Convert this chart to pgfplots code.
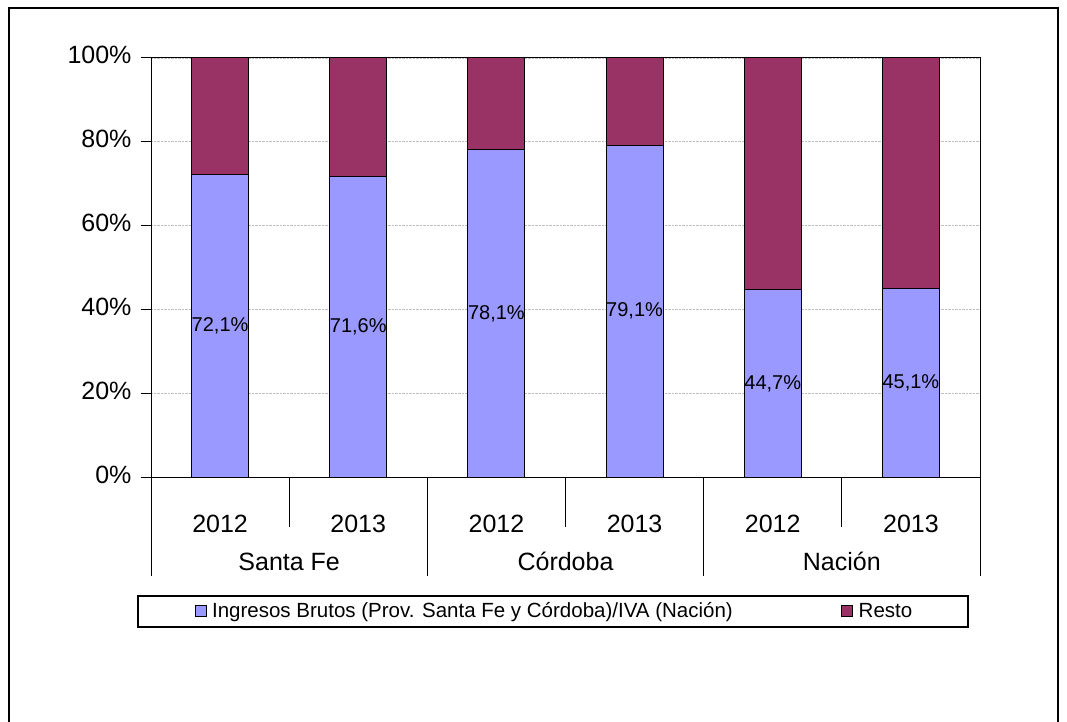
\documentclass[border=0pt]{standalone}
\usepackage{pgfplots}
\pgfplotsset{compat=1.18}
\usepackage{fontspec}
\setmainfont{Liberation Sans}
\definecolor{ib}{HTML}{9999FF}
\definecolor{resto}{HTML}{993366}
\begin{document}
\begin{tikzpicture}
\path[use as bounding box] (0pt,0pt) rectangle (1067pt,721pt);
\draw[line width=1.5pt] (9pt,-2pt) -- (9pt,713pt) -- (1058pt,713pt) -- (1058pt,-2pt);
\begin{axis}[
  at={(151pt,244pt)}, anchor=south west,
  width=829pt, height=419pt, scale only axis,
  ybar stacked, bar width=57pt,
  xmin=-0.5, xmax=5.5, ymin=0, ymax=100,
  clip=false,
  xtick={0,...,5},
  xticklabels={2012,2013,2012,2013,2012,2013},
  xtick style={draw=none},
  ytick={0,20,...,100},
  yticklabels={0\%,20\%,40\%,60\%,80\%,100\%},
  tick align=outside, major tick length=10pt,
  xtick pos=left, ytick pos=left,
  ytick style={black, line width=1pt},
  ymajorgrids, major grid style={gray!50, densely dotted, line width=0.8pt},
  axis line style={black, line width=1pt},
  ticklabel style={font=\fontsize{25}{30}\selectfont},
  xticklabel style={anchor=base, yshift=-45pt},
  yticklabel style={xshift=-6pt},
  typeset ticklabels with strut=false,
  legend columns=2,
  legend style={at={(axis description cs:0.0525,-0.3198)}, anchor=west,
    draw=none, fill=none, font=\fontsize{20.5}{24}\selectfont,
    inner sep=0pt, nodes={inner sep=2.5pt},
    /tikz/every even column/.append style={column sep=106pt}},
]
\addplot[fill=ib, draw=black, line width=1pt,
  legend image code/.code={\draw[fill=ib,draw=black,line width=0.8pt] (0pt,-5.5pt) rectangle (11pt,5.5pt); \path (14pt,0pt);},
  nodes near coords={\pgfmathprintnumber[use comma, fixed, fixed zerofill, precision=1, assume math mode=true]{\pgfplotspointmeta}\%},
  every node near coord/.append style={anchor=center, black, font=\fontsize{20}{24}\selectfont}
] coordinates {(0,72.1) (1,71.6) (2,78.1) (3,79.1) (4,44.7) (5,45.1)};
\addlegendentry{Ingresos Brutos (Prov. Santa Fe y Córdoba)/IVA (Nación)}
\addplot[fill=resto, draw=black, line width=1pt,
  legend image code/.code={\draw[fill=resto,draw=black,line width=0.8pt] (0pt,-5.5pt) rectangle (11pt,5.5pt); \path (14pt,0pt);}
] coordinates {(0,27.9) (1,28.4) (2,21.9) (3,20.9) (4,55.3) (5,54.9)};
\addlegendentry{Resto}
% category separators
\draw[black, line width=1pt] (axis cs:-0.5,0) -- ++(0pt,-99pt);
\draw[black, line width=1pt] (axis cs:1.5,0) -- ++(0pt,-99pt);
\draw[black, line width=1pt] (axis cs:3.5,0) -- ++(0pt,-99pt);
\draw[black, line width=1pt] (axis cs:5.5,0) -- ++(0pt,-99pt);
\draw[black, line width=1pt] (axis cs:0.5,0) -- ++(0pt,-50pt);
\draw[black, line width=1pt] (axis cs:2.5,0) -- ++(0pt,-50pt);
\draw[black, line width=1pt] (axis cs:4.5,0) -- ++(0pt,-50pt);
\node[anchor=base, yshift=-93pt, font=\fontsize{25}{30}\selectfont] at (axis cs:0.5,0) {Santa Fe};
\node[anchor=base, yshift=-93pt, font=\fontsize{25}{30}\selectfont] at (axis cs:2.5,0) {Córdoba};
\node[anchor=base, yshift=-93pt, font=\fontsize{25}{30}\selectfont] at (axis cs:4.5,0) {Nación};
\end{axis}
\draw[line width=1.2pt] (138pt,94pt) rectangle (968pt,125pt);
\end{tikzpicture}
\end{document}
